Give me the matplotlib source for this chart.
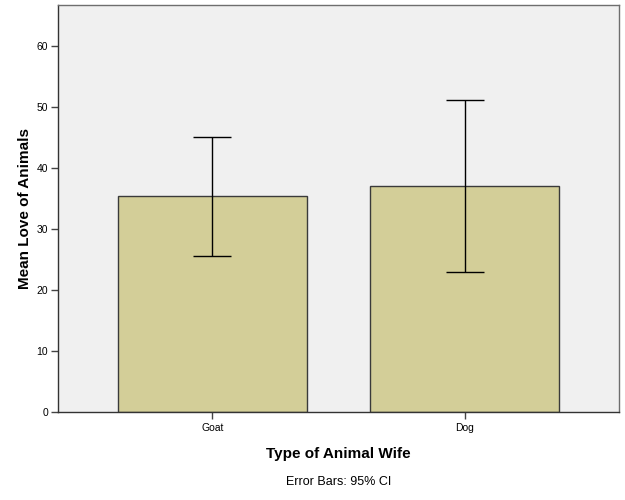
import numpy as np
import matplotlib
matplotlib.use("Agg")
import matplotlib.pyplot as plt

plt.rcParams['font.family'] = ['Liberation Sans', 'DejaVu Sans']

categories = ["Goat", "Dog"]
means = [35.4, 37.0]
ci_low = [25.6, 23.0]
ci_high = [45.1, 51.2]
yticks = [0, 10, 20, 30, 40, 50, 60]

x = np.arange(len(categories))
means_arr = np.array(means)
yerr = [means_arr - np.array(ci_low), np.array(ci_high) - means_arr]

fig = plt.figure(figsize=(6.25, 5), dpi=100)
ax = fig.add_axes([0.0928, 0.1754, 0.8976, 0.8146])
ax.set_facecolor("#f0f0f0")

ax.bar(x, means, width=0.75, color="#d3ce98", edgecolor="#3a3a3a", linewidth=1.0, zorder=2)
# cap marker is 2*capsize points long
ax.errorbar(x, means, yerr=yerr, fmt="none", ecolor="black", elinewidth=1.0,
            capsize=13.7, capthick=1.0, zorder=3)

ax.set_xlim(-0.613, 1.613)
ax.set_ylim(0, 66.7)
ax.set_yticks(yticks)
ax.set_xticks(x)
ax.set_xticklabels(categories, fontsize=7.5)
ax.tick_params(axis="y", labelsize=7.5, length=5, width=1, color="#444444", pad=2)
ax.tick_params(axis="x", length=5, width=1, color="#444444", pad=3)

for s in ax.spines.values():
    s.set_color("#6e6e6e")
    s.set_linewidth(1.0)
ax.spines["left"].set_color("#333333")
ax.spines["bottom"].set_color("#333333")

ax.set_ylabel("Mean Love of Animals", fontsize=11, fontweight="bold", labelpad=3)
ax.set_xlabel("Type of Animal Wife", fontsize=11, fontweight="bold", labelpad=10)
fig.text(0.541, 0.036, "Error Bars: 95% CI", ha="center", va="center", fontsize=9)

fig.savefig("out.png", dpi=100)
